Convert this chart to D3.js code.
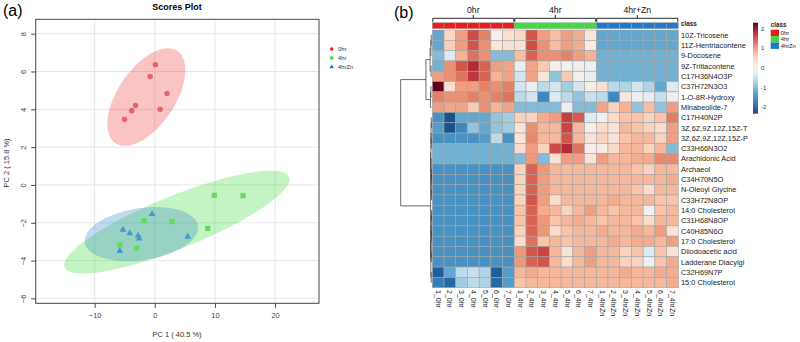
<!DOCTYPE html>
<html>
<head>
<meta charset="utf-8">
<script src="https://cdn.jsdelivr.net/npm/d3@7"></script>
<style>
  body { margin: 0; background: #fff; }
  svg { font-family: "Liberation Sans", Arial, Helvetica, sans-serif; }
</style>
</head>
<body>
<svg id="chart" width="800" height="342"></svg>
<script>
// ---------- data: (a) PCA scores ----------
const groups = ["0hr", "4hr", "4hrZn"];
const pc1_0hr = [0.1, -0.78, 2.04, -3.2, -3.83, 0.88, -5.04];
const pc2_0hr = [6.36, 5.73, 4.83, 4.2, 3.93, 4.0, 3.47];
const pc1_4hr = [9.9, 14.67, -1.78, 2.87, 8.8, -5.82, -3.0];
const pc2_4hr = [-0.55, -0.57, -1.89, -1.94, -2.3, -3.16, -3.35];
const pc1_4hrZn = [-0.45, -5.3, -4.16, -2.77, -2.6, 5.48, -5.82];
const pc2_4hrZn = [-1.54, -2.37, -2.56, -2.68, -2.84, -2.74, -3.49];
const xTicks = [-10, 0, 10, 20];
const yTicks = [-6, -4, -2, 0, 2, 4, 6, 8];

// ---------- data: (b) heatmap ----------
const groupLabels = ["0hr", "4hr", "4hr+Zn"];
const colNames = ["1_0hr","2_0hr","3_0hr","4_0hr","5_0hr","6_0hr","7_0hr",
  "1_4hr","2_4hr","3_4hr","4_4hr","5_4hr","6_4hr","7_4hr",
  "1_4hrZn","2_4hrZn","3_4hrZn","4_4hrZn","5_4hrZn","6_4hrZn","7_4hrZn"];
const colClass = [0,0,0,0,0,0,0, 1,1,1,1,1,1,1, 2,2,2,2,2,2,2];
const rowNames = ["10Z-Tricosene","11Z-Hentriacontene","9-Docosene","9Z-Tritiacontene",
  "C17H36N4O3P","C37H72N3O3","1-O-8R-Hydroxy","Minabeolide-7","C17H40N2P",
  "3Z,6Z,9Z,12Z,15Z-T","3Z,6Z,9Z,12Z,15Z-P","C33H66N3O2","Arachidonic Acid","Archaeol",
  "C34H70N5O","N-Oleoyl Glycine","C33H72N8OP","14:0 Cholesterol","C31H68N8OP",
  "C40H85N6O","17:0 Cholesterol","Diiodoacetic acid","Ladderane Diacylgl","C32H69N7P",
  "15:0 Cholesterol"];
const zScores = [
  [-1.2,0.45,0.95,1.5,1.15,0.0,0.35, 0.45,1.45,0.95,0.7,0.95,0.85,0.25, -1.2,-1.2,-1.2,-1.2,-1.2,-1.2,-1.2],
  [-1.2,0.55,0.95,1.45,1.05,0.25,0.35, 0.35,1.5,1.05,0.7,0.95,0.85,0.15, -1.2,-1.2,-1.2,-1.2,-1.2,-1.2,-1.2],
  [-1.0,-0.3,0.8,1.25,1.05,-1.0,-1.0, 0.7,1.35,1.05,1.05,1.15,0.95,0.8, -1.1,-1.1,-1.1,-1.1,-1.1,-1.1,-1.1],
  [-1.1,1.05,1.45,1.75,1.35,0.95,0.9, -0.1,0.9,0.6,0.0,-0.05,0.0,-0.1, -1.1,-1.1,-1.1,-1.1,-1.1,-1.1,-1.1],
  [0.95,1.05,1.25,1.65,1.35,0.8,0.9, -0.4,0.9,0.25,-0.9,0.6,0.0,-0.2, -1.1,-1.1,-1.1,-1.1,-1.1,-1.1,-1.1],
  [2.3,0.35,0.95,0.95,1.15,1.05,1.15, -0.4,-0.1,-0.6,-0.4,-0.8,-0.4,0.1, 0.35,-0.6,-0.7,-0.4,-0.7,-1.2,-0.3],
  [1.15,1.05,1.05,1.15,1.05,1.15,1.25, -0.6,-0.4,-1.5,-0.3,-0.6,-0.9,-0.5, -0.6,-1.5,0.25,-0.1,-0.2,-0.5,-0.1],
  [0.95,0.9,0.9,0.6,1.05,0.8,0.9, -1.0,-1.0,-1.0,-1.0,-0.1,-1.0,-1.0, 0.9,0.5,0.8,-0.9,0.7,-0.9,0.95],
  [-1.4,-2.0,-1.2,-1.2,-1.2,-0.9,-0.8, 0.5,0.5,0.85,0.95,1.6,1.4,-0.3, -0.05,0.4,0.65,0.65,0.5,0.65,1.2],
  [-1.3,-2.0,-1.5,-0.9,-1.2,-0.9,-0.8, 0.3,1.05,0.75,0.75,1.55,0.75,0.05, 0.4,0.3,0.75,0.65,0.5,0.4,0.95],
  [-1.4,-1.4,-1.4,-1.4,-1.3,-0.6,-1.4, 0.3,1.1,0.75,0.75,1.45,0.75,0.3, 0.5,0.3,0.65,0.75,0.75,0.5,0.95],
  [-1.1,-1.1,-1.1,-1.1,-1.1,-1.1,-1.1, 0.4,0.95,0.5,1.5,1.75,1.25,0.05, 0.15,0.4,0.75,0.75,0.5,0.75,-1.0],
  [-1.1,-1.1,-1.1,-1.1,-1.1,-1.1,-1.1, -1.0,1.0,-1.0,0.3,0.95,0.95,0.3, 0.95,0.75,0.75,0.85,0.85,1.1,1.1],
  [-1.4,-1.4,-1.4,-1.4,-1.4,-1.4,-1.4, 0.5,1.35,1.0,0.75,0.75,0.75,0.75, 0.75,0.75,0.75,0.65,0.5,0.75,0.75],
  [-1.4,-1.4,-1.4,-1.4,-1.4,-1.4,-1.4, 0.5,1.35,0.95,0.75,0.75,0.75,0.75, 0.75,0.75,0.75,0.75,0.75,0.75,0.85],
  [-1.4,-1.4,-1.4,-1.4,-1.4,-1.4,-1.4, 0.5,1.35,0.95,0.75,0.75,0.75,0.75, 0.75,0.75,0.75,0.65,0.4,0.75,0.75],
  [-1.4,-1.4,-1.4,-1.4,-1.4,-1.4,-1.4, 0.5,1.45,0.95,0.4,0.75,0.75,0.75, 0.75,0.85,0.75,0.75,0.75,0.65,0.65],
  [-1.4,-1.4,-1.4,-1.4,-1.4,-1.4,-1.4, 0.65,1.35,0.85,0.75,0.5,0.75,0.95, 0.75,0.65,0.75,0.75,-0.05,0.65,0.75],
  [-1.4,-1.4,-1.4,-1.4,-1.4,-1.4,-1.4, 0.65,1.35,1.0,0.65,0.75,0.85,0.75, 0.65,0.75,0.75,0.65,0.4,0.75,0.75],
  [-1.4,-1.4,-1.4,-1.4,-1.4,-1.4,-1.4, 0.5,1.35,1.0,0.4,0.65,0.75,0.75, 0.85,0.75,0.75,0.85,0.75,0.95,0.3],
  [-1.4,-1.4,-1.4,-1.4,-1.4,-1.4,-1.4, 0.4,1.25,0.65,0.75,0.65,0.75,0.75, 0.75,0.85,0.75,0.85,0.85,0.75,0.95],
  [-1.4,-1.4,-1.4,-1.4,-1.4,-1.4,-1.4, 1.0,1.45,1.55,0.75,0.3,0.75,0.95, 0.75,0.75,0.5,0.65,-0.3,0.65,0.3],
  [-1.4,-1.4,-1.4,-1.4,-1.4,-1.4,-1.4, 1.0,1.35,1.45,0.75,0.4,0.75,0.95, 0.75,0.75,0.5,0.5,-0.05,0.65,0.85],
  [-1.9,-1.2,-0.6,-0.5,-0.7,-1.9,-1.3, 0.75,0.85,0.75,0.75,0.75,0.75,0.75, 0.75,0.75,0.85,0.75,0.75,0.85,0.85],
  [-1.6,-1.8,-0.8,-0.6,-0.7,-1.8,-1.3, 0.65,0.75,0.75,0.75,0.75,0.75,0.75, 0.75,0.75,0.75,0.75,0.75,0.75,0.85]
];
const legendTicks = [-2, -1, 0, 1, 2];

// row dendrogram: merge height + two children (leaf = row index)
function n(h, a, b) { return { h: h, c: [a, b] }; }
const rowTree = n(10,
  n(1.8,
    n(0.45, n(0.2, n(0.1, 0, 1), 2), n(0.15, 3, 4)),
    n(0.35, n(0.2, 5, 6), 7)),
  n(0.28,
    n(0.2, n(0.12, n(0.06, 8, 9), n(0.06, 10, 11)),
      n(0.14, 12, n(0.05, n(0.02, 13, 14), n(0.02, 15, 16)))),
    n(0.22, n(0.15, n(0.05, n(0.02, 17, 18), n(0.02, 19, 20)), n(0.05, 21, 22)),
      n(0.1, 23, 24)))
);

const classColors = ["#ec1c1c", "#3cdc3c", "#1f78c8"];
const pointColors = ["#e8646c", "#5edc5e", "#4a96c8"];

const svg = d3.select("#chart");

// ================= (a) Scores plot =================
const x = d3.scaleLinear().domain([-19.8, 27.3]).range([35.7, 319]);
const y = d3.scaleLinear().domain([-6.26, 8.76]).range([303.3, 19.3]);

const pa = svg.append("g");

pa.append("text").attr("x", 3).attr("y", 15.5)
  .attr("font-size", 16).text("(a)");
pa.append("text").attr("x", 177).attr("y", 10).attr("text-anchor", "middle")
  .attr("font-size", 9).attr("font-weight", "bold").text("Scores Plot");

// grid
pa.selectAll(".gx").data(xTicks).join("line")
  .attr("x1", d => x(d)).attr("x2", d => x(d))
  .attr("y1", y.range()[1]).attr("y2", y.range()[0])
  .attr("stroke", "#e3e3e3").attr("stroke-width", 0.9);
pa.selectAll(".gy").data(yTicks).join("line")
  .attr("y1", d => y(d)).attr("y2", d => y(d))
  .attr("x1", x.range()[0]).attr("x2", x.range()[1])
  .attr("stroke", "#e3e3e3").attr("stroke-width", 0.9);

const scoreSets = [
  { g: 0, xs: pc1_0hr, ys: pc2_0hr },
  { g: 1, xs: pc1_4hr, ys: pc2_4hr },
  { g: 2, xs: pc1_4hrZn, ys: pc2_4hrZn }
];

// 95% confidence ellipse from the covariance of each group
function ellipsePts(xs, ys) {
  const mx = d3.mean(xs), my = d3.mean(ys), k = xs.length - 1;
  let sxx = 0, syy = 0, sxy = 0;
  xs.forEach((v, i) => {
    sxx += (v - mx) ** 2; syy += (ys[i] - my) ** 2; sxy += (v - mx) * (ys[i] - my);
  });
  sxx /= k; syy /= k; sxy /= k;
  const tr = sxx + syy, det = sxx * syy - sxy * sxy;
  const l1 = tr / 2 + Math.sqrt(tr * tr / 4 - det), l2 = tr / 2 - Math.sqrt(tr * tr / 4 - det);
  const ang = Math.atan2(l1 - sxx, sxy);
  const r = Math.sqrt(5.991);
  return d3.range(0, 361, 3).map(a => {
    const t = a * Math.PI / 180;
    const u = r * Math.sqrt(l1) * Math.cos(t), v = r * Math.sqrt(l2) * Math.sin(t);
    return [mx + u * Math.cos(ang) - v * Math.sin(ang), my + u * Math.sin(ang) + v * Math.cos(ang)];
  });
}
const line = d3.line().x(d => x(d[0])).y(d => y(d[1]));
const ellOpacity = [0.26, 0.3, 0.27];
pa.selectAll(".ell").data(scoreSets).join("path")
  .attr("d", d => line(ellipsePts(d.xs, d.ys)) + "Z")
  .attr("fill", d => classColors[d.g]).attr("fill-opacity", d => ellOpacity[d.g])
  .attr("stroke", "none");

const symbols = [d3.symbolCircle, d3.symbolSquare, d3.symbolTriangle];
const symSize = [24, 27, 20];
scoreSets.forEach(s => {
  pa.append("g").selectAll("path").data(s.xs).join("path")
    .attr("transform", (d, i) => `translate(${x(d)},${y(s.ys[i])})`)
    .attr("d", d3.symbol(symbols[s.g], symSize[s.g]))
    .attr("fill", pointColors[s.g]);
});

// border + axes
pa.append("rect").attr("x", x.range()[0]).attr("y", y.range()[1])
  .attr("width", x.range()[1] - x.range()[0]).attr("height", y.range()[0] - y.range()[1])
  .attr("fill", "none").attr("stroke", "#444").attr("stroke-width", 1);

const ax = pa.append("g").attr("transform", `translate(0,${y.range()[0]})`)
  .call(d3.axisBottom(x).tickValues(xTicks).tickSize(4.5).tickPadding(5));
const ay = pa.append("g").attr("transform", `translate(${x.range()[0]},0)`)
  .call(d3.axisLeft(y).tickValues(yTicks).tickSize(4.5));
[ax, ay].forEach(a => {
  a.select(".domain").remove();
  a.selectAll("line").attr("stroke", "#444");
  a.selectAll("text").attr("font-size", 7.5).attr("fill", "#444")
    .attr("font-family", "Liberation Sans, Arial, sans-serif");
});
ay.selectAll("text").attr("x", 0).attr("y", -9.6).attr("dy", null)
  .attr("transform", "rotate(-90)").attr("text-anchor", "middle");

pa.append("text").attr("x", 177).attr("y", 337).attr("text-anchor", "middle")
  .attr("font-size", 7.5).attr("fill", "#333").text("PC 1 ( 40.5 %)");
pa.append("text").attr("transform", "translate(8.8,163) rotate(-90)").attr("text-anchor", "middle")
  .attr("font-size", 7.5).attr("fill", "#333").text("PC 2 ( 15.8 %)");

// legend
const lg = pa.append("g").selectAll("g").data(groups).join("g")
  .attr("transform", (d, i) => `translate(331.7,${49 + i * 9})`);
lg.append("path").attr("d", (d, i) => d3.symbol(symbols[i], [10, 10, 9][i])())
  .attr("fill", (d, i) => classColors[i]);
lg.append("text").attr("x", 6.3).attr("dy", "0.35em").attr("font-size", 5.8)
  .attr("fill", "#333").text(d => d);

// ================= (b) Heatmap =================
const pb = svg.append("g");
pb.append("text").attr("x", 394).attr("y", 17.5).attr("font-size", 16).text("(b)");

const cx = d3.scaleBand().domain(d3.range(colNames.length)).range([432.3, 678.3]);
const ry = d3.scaleBand().domain(d3.range(rowNames.length)).range([30, 287.7]);
const color = d3.scaleDiverging(t => d3.interpolateRdBu(1 - t)).domain([-2.3, 0, 2.3]);

// cells
zScores.forEach((row, i) => {
  pb.append("g").selectAll("rect").data(row).join("rect")
    .attr("x", (d, j) => cx(j)).attr("y", ry(i))
    .attr("width", cx.bandwidth()).attr("height", ry.bandwidth())
    .attr("fill", d => color(d))
    .attr("stroke", "#a3a3a3").attr("stroke-width", 0.6);
});

// class annotation bar
pb.append("g").selectAll("rect").data(colClass).join("rect")
  .attr("x", (d, j) => cx(j)).attr("y", 22.7)
  .attr("width", cx.bandwidth()).attr("height", 6)
  .attr("fill", d => classColors[d]).attr("stroke", "#a3a3a3").attr("stroke-width", 0.5);

// group brackets and labels
groupLabels.forEach((g, k) => {
  const idx = colClass.map((c, j) => c === k ? j : -1).filter(j => j >= 0);
  const x0 = cx(d3.min(idx)) + 0.5, x1 = cx(d3.max(idx)) + cx.bandwidth() - 0.5, xm = (x0 + x1) / 2;
  pb.append("path").attr("d", `M${x0},21.8V18.3H${x1}V21.8M${xm},18.3V15`)
    .attr("fill", "none").attr("stroke", "#111").attr("stroke-width", 0.9);
  pb.append("text").attr("x", xm).attr("y", 13.4).attr("text-anchor", "middle")
    .attr("font-size", 8.7).attr("fill", "#111").text(g);
});

// row labels
pb.append("text").attr("x", 681).attr("y", ry(0) - 4.1).attr("font-size", 6.3)
  .attr("font-weight", "bold").attr("fill", "#222").text("class");
pb.append("g").selectAll("text").data(rowNames).join("text")
  .attr("x", 681).attr("y", (d, i) => ry(i) + ry.bandwidth() / 2).attr("dy", "0.35em")
  .attr("font-size", 7.4).attr("fill", "#222").text(d => d);

// column labels
pb.append("g").selectAll("text").data(colNames).join("text")
  .attr("transform", (d, j) => `translate(${cx(j) + cx.bandwidth() / 2},290) rotate(90)`)
  .attr("dy", "0.35em").attr("font-size", 7).attr("fill", "#222").text(d => d);

// row dendrogram
const hx = d3.scaleLinear().domain([0, rowTree.h]).range([431.5, 400.7]);
const dendro = pb.append("g").attr("fill", "none").attr("stroke", "#444").attr("stroke-width", 0.8);
function place(node) {
  if (typeof node === "number") return { y: ry(node) + ry.bandwidth() / 2, h: 0 };
  const a = place(node.c[0]), b = place(node.c[1]);
  dendro.append("path")
    .attr("d", `M${hx(a.h)},${a.y}H${hx(node.h)}V${b.y}H${hx(b.h)}`);
  return { y: (a.y + b.y) / 2, h: node.h };
}
place(rowTree);

// colour key
const ky = d3.scaleLinear().domain([-2.3, 2.3]).range([113.3, 22.7]);
const keySteps = d3.range(-2.3, 2.3, 0.05);
pb.append("g").selectAll("rect").data(keySteps).join("rect")
  .attr("x", 753).attr("width", 5)
  .attr("y", d => ky(d + 0.05)).attr("height", d => ky(d) - ky(d + 0.05) + 0.3)
  .attr("fill", d => color(d + 0.025));
pb.append("g").selectAll("text").data(legendTicks).join("text")
  .attr("x", 761).attr("y", d => ky(d)).attr("dy", "0.35em")
  .attr("font-size", 6).attr("fill", "#333").text(d => d);

// class legend
pb.append("text").attr("x", 770.7).attr("y", 26.6).attr("font-size", 6.3)
  .attr("font-weight", "bold").attr("fill", "#222").text("class");
const cl = pb.append("g").selectAll("g").data(groups).join("g")
  .attr("transform", (d, i) => `translate(770.7,${29.7 + i * 6.4})`);
cl.append("rect").attr("width", 8.3).attr("height", 6.4).attr("fill", (d, i) => classColors[i]);
cl.append("text").attr("x", 10).attr("y", 3.2).attr("dy", "0.35em")
  .attr("font-size", 5.8).attr("fill", "#222").text(d => d);
</script>
</body>
</html>
